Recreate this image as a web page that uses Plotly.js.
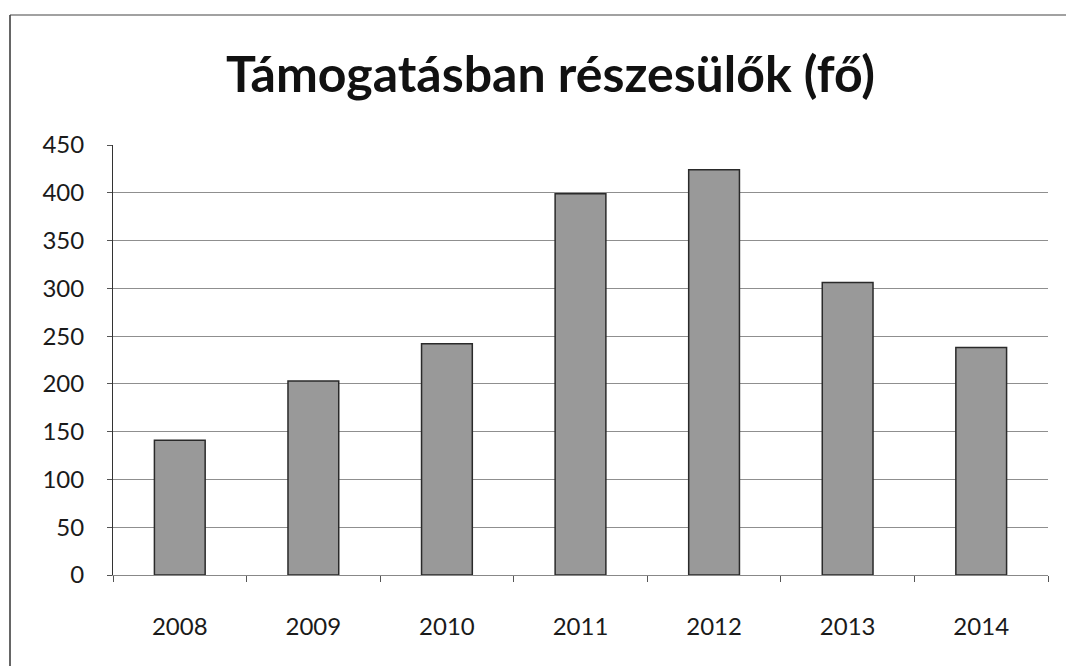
<!DOCTYPE html>
<html>
<head>
<meta charset="utf-8">
<script src="https://cdn.plot.ly/plotly-3.0.1.min.js"></script>
<style>html,body{margin:0;padding:0;background:#fff;}#chart{width:1069px;height:666px;}</style>
</head>
<body>
<div id="chart"></div>
<script>
const years = ["2008", "2009", "2010", "2011", "2012", "2013", "2014"];
const recipients = [141, 203, 242, 399, 424, 306, 238];
const yTicks = [0, 50, 100, 150, 200, 250, 300, 350, 400, 450];
const titleText = "Támogatásban részesülők (fő)";

const L = 113, R = 21, T = 145, B = 91, W = 1069, H = 666;
const pw = W - L - R, ph = H - T - B;
function px(x) { return (x - L) / pw; }
function py(y) { return (H - B - y) / ph; }

const trace = {
  type: "bar",
  x: years,
  y: recipients,
  width: 0.38,
  marker: { color: "#999999", line: { color: "#2a2a2a", width: 1.5 } },
  hoverinfo: "x+y"
};

const layout = {
  width: W, height: H,
  margin: { l: L, r: R, t: T, b: B },
  paper_bgcolor: "#ffffff",
  plot_bgcolor: "#ffffff",
  showlegend: false,
  font: { family: "Lato, 'Open Sans', sans-serif", color: "#1a1a1a" },
  title: {
    text: titleText,
    font: { family: "Lato, 'Open Sans', sans-serif", size: 50, weight: "bold", color: "#111" },
    xref: "container", x: 0.515, xanchor: "center",
    yref: "container", y: 1 - 74 / H, yanchor: "middle"
  },
  xaxis: {
    type: "category",
    tickson: "boundaries",
    ticks: "outside", ticklen: 6, tickcolor: "#555", tickwidth: 1,
    showline: true, linecolor: "#888", linewidth: 1,
    showgrid: false,
    tickfont: { size: 24, color: "#1a1a1a" },
    ticklabelstandoff: 30,
    fixedrange: true
  },
  yaxis: {
    range: [0, 450],
    tickvals: yTicks,
    ticks: "outside", ticklen: 5, tickcolor: "#555", tickwidth: 1,
    showline: true, linecolor: "#333", linewidth: 1,
    showgrid: true, gridcolor: "#8f8f8f", gridwidth: 1,
    zeroline: false,
    tickfont: { size: 24, color: "#1a1a1a" },
    ticklabelstandoff: 18,
    fixedrange: true
  },
  shapes: [
    { type: "line", xref: "paper", yref: "paper", x0: px(10), x1: px(10), y0: py(15), y1: py(666),
      line: { color: "#333", width: 1.5 } },
    { type: "line", xref: "paper", yref: "paper", x0: px(10), x1: px(1066), y0: py(15), y1: py(15),
      line: { color: "#444", width: 1.2 } }
  ]
};

Plotly.newPlot("chart", [trace], layout, { displayModeBar: false, staticPlot: true });
</script>
</body>
</html>
